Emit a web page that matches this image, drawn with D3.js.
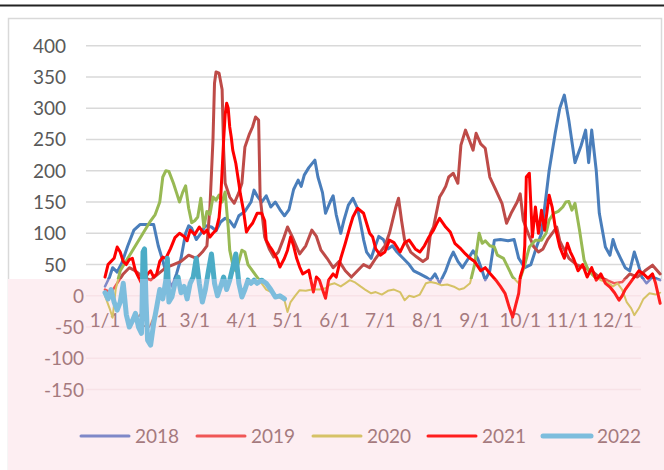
<!DOCTYPE html>
<html><head><meta charset="utf-8">
<script src="https://cdn.jsdelivr.net/npm/d3@7"></script>
<style>html,body{margin:0;padding:0;background:#fff}svg{display:block}</style>
</head><body>
<svg id="c" width="664" height="470"></svg>
<script>
// ---- data (day of year, value) ----
const seriesNames = ["2018","2019","2020","2021","2022"];
const monthLabels = ["1/1","2/1","3/1","4/1","5/1","6/1","7/1","8/1","9/1","10/1","11/1","12/1"];
const monthDays = [0,31,59,90,120,151,181,212,243,273,304,334];
const yTicks = [400,350,300,250,200,150,100,50,0,-50,-100,-150];

const s2018 = [[0,15],[3,30],[5,45],[8,38],[11,52],[15,80],[19,105],[23,114],[28,114],[32,114],[35,80],[38,56],[41,30],[44,15],[47,35],[50,60],[53,100],[55,112],[57,108],[60,90],[63,100],[66,112],[70,110],[73,104],[76,118],[79,124],[82,120],[85,110],[88,128],[92,135],[96,150],[98,169],[100,160],[103,150],[106,160],[109,142],[112,150],[115,138],[118,128],[121,138],[124,170],[127,185],[129,175],[131,193],[134,205],[138,217],[140,190],[143,165],[145,132],[148,150],[150,160],[152,130],[155,100],[157,120],[160,145],[163,156],[166,140],[168,116],[170,90],[172,70],[175,60],[177,75],[180,95],[183,90],[186,75],[189,80],[192,70],[196,60],[200,50],[203,40],[207,35],[211,30],[214,25],[217,35],[220,20],[224,40],[227,60],[229,70],[232,55],[235,45],[239,60],[242,72],[245,60],[248,40],[250,25],[253,40],[256,89],[260,90],[265,88],[269,90],[272,60],[276,45],[280,50],[284,80],[287,100],[289,140],[292,200],[296,260],[299,300],[302,321],[305,280],[309,213],[313,240],[316,265],[318,213],[320,265],[323,200],[325,132],[329,78],[332,65],[334,90],[336,75],[339,60],[342,45],[345,40],[348,70],[350,55],[353,30],[356,20],[360,30],[365,25]];
const s2019 = [[0,10],[4,5],[8,20],[12,35],[16,45],[20,40],[25,30],[30,25],[35,35],[40,45],[45,50],[50,55],[55,65],[60,60],[64,70],[67,80],[69,142],[71,250],[72,340],[73,358],[75,356],[77,330],[78,233],[79,180],[82,158],[85,148],[88,165],[90,180],[92,238],[95,259],[97,270],[99,286],[101,281],[102,158],[105,94],[108,75],[111,62],[114,70],[117,89],[120,110],[123,95],[126,78],[128,67],[132,80],[136,105],[139,95],[142,73],[146,60],[150,45],[154,55],[158,40],[162,30],[166,40],[170,50],[174,45],[178,60],[181,70],[184,80],[187,100],[189,120],[191,140],[193,156],[195,120],[197,89],[201,70],[205,62],[209,55],[212,60],[214,100],[216,110],[220,158],[222,166],[224,175],[226,190],[229,196],[232,180],[234,241],[237,265],[240,246],[242,233],[244,260],[247,243],[250,236],[253,190],[257,169],[261,148],[264,116],[267,132],[271,150],[273,163],[275,121],[279,95],[282,78],[285,70],[288,75],[291,90],[294,100],[297,110],[299,88],[301,78],[305,60],[310,50],[315,45],[320,40],[325,30],[330,25],[335,20],[340,22],[345,35],[350,30],[355,40],[360,49],[365,35]];
const s2020 = [[0,0],[3,-20],[5,-35],[7,10],[10,40],[15,60],[20,80],[25,100],[30,120],[33,130],[36,150],[38,190],[40,200],[42,199],[45,180],[47,165],[49,150],[51,165],[53,176],[55,140],[57,117],[59,120],[61,126],[63,156],[65,110],[67,135],[69,130],[71,158],[73,153],[75,161],[77,150],[79,166],[81,110],[82,73],[84,50],[86,40],[88,55],[90,73],[92,70],[94,50],[97,40],[100,30],[103,20],[106,10],[110,5],[114,-2],[118,-7],[120,-26],[122,-10],[125,0],[128,9],[132,8],[136,10],[141,10],[145,12],[148,18],[151,20],[155,15],[158,20],[161,25],[164,22],[168,15],[171,10],[175,4],[178,6],[182,2],[186,8],[190,10],[194,6],[197,-7],[200,0],[203,-2],[207,2],[211,20],[214,22],[218,20],[221,17],[225,18],[230,14],[233,10],[236,12],[240,20],[243,50],[246,100],[248,84],[250,88],[253,80],[256,78],[258,65],[262,60],[265,45],[268,30],[272,20],[276,50],[279,78],[283,89],[287,89],[290,100],[292,121],[295,132],[298,135],[301,142],[303,150],[305,151],[307,137],[309,148],[312,105],[315,57],[318,40],[322,30],[326,25],[330,22],[334,15],[337,20],[340,10],[343,-10],[346,-20],[348,-31],[351,-20],[354,-5],[358,4],[362,2],[365,5]];
const s2021 = [[0,30],[2,50],[4,55],[6,60],[8,78],[10,70],[12,55],[14,50],[16,58],[18,60],[20,40],[22,30],[24,20],[26,25],[28,35],[30,40],[32,30],[34,35],[36,55],[38,62],[40,60],[43,75],[46,93],[49,100],[52,95],[54,88],[56,105],[59,98],[62,110],[65,100],[67,105],[69,94],[71,100],[73,105],[75,125],[76,153],[77,200],[78,249],[79,290],[80,308],[81,300],[82,270],[83,254],[84,233],[86,212],[88,180],[89,163],[91,137],[93,102],[95,110],[97,116],[100,132],[103,132],[105,120],[106,89],[108,80],[110,73],[113,60],[115,46],[118,60],[120,73],[122,94],[124,80],[126,60],[128,46],[130,35],[134,41],[137,6],[139,30],[141,25],[143,10],[145,-4],[147,25],[150,35],[152,30],[155,60],[158,84],[161,110],[163,126],[166,140],[170,132],[174,100],[176,94],[178,75],[181,65],[184,70],[187,89],[190,85],[194,70],[197,85],[200,89],[204,75],[207,70],[210,80],[213,94],[216,105],[218,115],[220,124],[224,110],[227,102],[230,84],[234,75],[237,67],[240,60],[243,55],[247,40],[250,45],[253,36],[257,25],[260,15],[263,4],[266,-20],[268,-34],[270,-15],[272,4],[273,30],[275,46],[276,80],[277,190],[279,196],[281,94],[283,142],[285,100],[287,137],[289,105],[291,142],[292,161],[294,142],[296,110],[299,78],[302,60],[304,84],[306,70],[308,60],[311,40],[314,50],[317,30],[320,45],[323,25],[326,35],[329,20],[332,14],[335,5],[338,-7],[340,0],[342,10],[345,20],[348,30],[351,40],[354,35],[357,28],[360,35],[362,20],[365,-12]];
const s2022 = [[0,5],[2,-5],[4,10],[6,-10],[8,-23],[10,-10],[12,20],[14,-30],[16,-50],[18,-40],[20,-28],[22,-50],[24,-60],[25,70],[26,75],[27,-10],[28,-71],[30,-79],[32,-44],[34,-18],[36,10],[38,-5],[40,25],[41,60],[42,-10],[44,-2],[46,20],[48,30],[50,5],[52,15],[54,-5],[56,20],[58,30],[60,60],[62,20],[64,-10],[66,10],[68,40],[70,67],[72,20],[74,0],[76,15],[78,30],[80,10],[82,25],[84,45],[86,67],[88,20],[90,-2],[92,10],[94,25],[96,20],[98,25],[100,20],[103,25],[106,20],[109,10],[112,-2],[115,0],[118,-5]];
const allSeries = [s2018, s2019, s2020, s2021, s2022];

// ---- styles ----
const upperColors = ["#4a7ebb","#be4b48","#98b954","#ff0000","#4bacc6"];
const lowerColors = ["#7f88c8","#f05656","#d6c266","#ff1e1e","#7dbddd"];
const upperWidths = [3,3,3,3,5];
const lowerWidths = [2.5,2.5,2,3,5];

const svg = d3.select("#c");
const W = 664, H = 470, splitY = 279;
const x = d3.scaleLinear().domain([0,334]).range([105,613]);
const y = d3.scaleLinear().domain([-150,400]).range([389.6,45.7]);
const line = d3.line().x(d=>x(d[0])).y(d=>y(d[1]));

const defs = svg.append("defs");
defs.append("clipPath").attr("id","up").append("rect").attr("x",0).attr("y",0).attr("width",W).attr("height",splitY);
defs.append("clipPath").attr("id","low").append("rect").attr("x",8).attr("y",splitY).attr("width",W-8).attr("height",H-splitY);

// frame
svg.append("rect").attr("width",W).attr("height",H).attr("fill","#fff");
svg.append("line").attr("x1",0).attr("x2",W).attr("y1",5.5).attr("y2",5.5).attr("stroke","#222").attr("stroke-width",2);
svg.append("rect").attr("x",8.5).attr("y",18.5).attr("width",653).attr("height",480).attr("fill","#fff").attr("stroke","#d9d9d9").attr("stroke-width",1.5);

const font = "Lato, 'Open Sans', sans-serif";

function layer(clipId, colors, widths, textColor, gridColor, labelX, bg, yLabelFilter, showX){
  const g = svg.append("g").attr("clip-path",`url(#${clipId})`);
  if(bg) g.append("rect").attr("x",8).attr("y",splitY).attr("width",W-8).attr("height",H-splitY).attr("fill",bg);
  g.selectAll("line.grid").data(yTicks).join("line").attr("class","grid")
    .attr("x1",86).attr("x2",641).attr("y1",d=>y(d)).attr("y2",d=>y(d))
    .attr("stroke",gridColor).attr("stroke-width",1.5);
  g.selectAll("text.yl").data(yTicks.filter(yLabelFilter)).join("text").attr("class","yl")
    .attr("x",labelX).attr("y",d=>y(d)+7).attr("text-anchor","end")
    .attr("font-family",font).attr("font-size",19).attr("fill",textColor).text(d=>d);
  if(showX){
    g.selectAll("text.xl").data(monthDays).join("text").attr("class","xl")
      .attr("x",d=>x(d)).attr("y",327).attr("text-anchor","middle")
      .attr("font-family",font).attr("font-size",19).attr("fill",textColor).text((d,i)=>monthLabels[i]);
  }
  g.selectAll("path.s").data(allSeries).join("path").attr("class","s")
    .attr("d",line).attr("fill","none")
    .attr("stroke",(d,i)=>colors[i]).attr("stroke-width",(d,i)=>widths[i])
    .attr("stroke-linejoin","round").attr("stroke-linecap","round");
  return g;
}

layer("up", upperColors, upperWidths, "#595959", "#d9d9d9", 66, null, d=>d>0, false);
const lowG = layer("low", lowerColors, lowerWidths, "#a57a7e", "#f8e2e7", 84, "#fdeef2", d=>d<=0, true);

// legend (in lower region)
const legendLineX = [81,197,313,428,543];
const leg = lowG.selectAll("g.leg").data(seriesNames).join("g").attr("class","leg");
leg.append("line").attr("x1",(d,i)=>legendLineX[i]).attr("x2",(d,i)=>legendLineX[i]+48)
  .attr("y1",436).attr("y2",436).attr("stroke",(d,i)=>lowerColors[i])
  .attr("stroke-width",(d,i)=>i===4?5:3).attr("stroke-linecap","round");
leg.append("text").attr("x",(d,i)=>legendLineX[i]+54).attr("y",443)
  .attr("font-family",font).attr("font-size",19).attr("fill","#a57a7e").text(d=>d);
</script>
</body></html>
